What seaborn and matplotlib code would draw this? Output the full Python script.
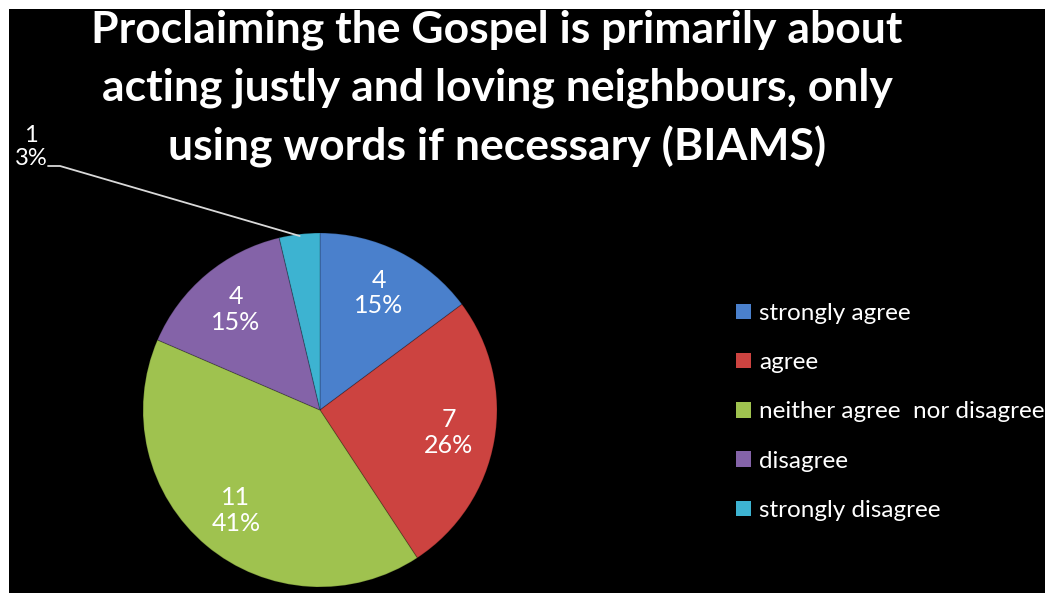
import seaborn as sns
import matplotlib.pyplot as plt
import matplotlib.patches as mpatches
import numpy as np

# data
categories = ["strongly agree", "agree", "neither agree  nor disagree", "disagree", "strongly disagree"]
counts = [4, 7, 11, 4, 1]
pct_labels = ["15%", "26%", "41%", "15%", "3%"]
colors = ["#4a80cc", "#cc4340", "#9fc24f", "#8463a8", "#3db3d1"]

title = ("Proclaiming the Gospel is primarily about\n"
         "acting justly and loving neighbours, only\n"
         "using words if necessary (BIAMS)")

sns.set_theme(style="white")
plt.rcParams['font.family'] = ['Lato', 'DejaVu Sans']

W, H = 1050, 593
fig = plt.figure(figsize=(W / 100, H / 100), dpi=100, facecolor="white")

# black chart area inside a thin white frame
fig.patches.append(mpatches.Rectangle((9 / W, 0), (1045 - 9) / W, (593 - 9) / H,
                                      transform=fig.transFigure, facecolor="black",
                                      edgecolor="none", zorder=-10))

# pie axes: center (320, 410) px, radius 177 px
cx, cy, r = 320, 410, 177
ax = fig.add_axes([(cx - r) / W, (H - cy - r) / H, 2 * r / W, 2 * r / H])
ax.set_facecolor("none")
wedges, _ = ax.pie(counts, colors=colors, startangle=90, counterclock=False,
                   wedgeprops=dict(edgecolor=(0, 0, 0, 0.2), linewidth=0.8))
ax.set_xlim(-1, 1)
ax.set_ylim(-1, 1)
ax.set_aspect("equal")

for i, w in enumerate(wedges):
    lab = f"{counts[i]}\n{pct_labels[i]}"
    ang = np.deg2rad((w.theta1 + w.theta2) / 2)
    if i < len(wedges) - 1:
        d = 0.74
        ax.text(d * np.cos(ang), d * np.sin(ang), lab, ha="center", va="center",
                color="white", fontsize=18, linespacing=1.15)
    else:
        ex, ey = np.cos(ang) * 0.99, np.sin(ang) * 0.99
        tx, ty = (31 - cx) / r, (cy - 147) / r
        ly = (cy - 166) / r
        ax.text(tx, ty, lab, ha="center", va="center", color="white",
                fontsize=17, linespacing=1.1, clip_on=False)
        ax.plot([(48 - cx) / r, (60 - cx) / r, ex], [ly, ly, ey],
                color="#d9d9d9", lw=1.3, clip_on=False)

fig.text(497 / W, 1 - 89 / H, title, ha="center", va="center", color="white",
         fontsize=32, fontweight="bold", linespacing=1.52)

handles = [mpatches.Patch(facecolor=c, edgecolor="none") for c in colors]
leg = fig.legend(handles, categories, loc="center left",
                 bbox_to_anchor=(736 / W, 1 - 412 / H), frameon=False,
                 borderaxespad=0, borderpad=0,
                 fontsize=17.5, labelcolor="white", handlelength=0.6,
                 handleheight=0.6, handletextpad=0.35, labelspacing=1.16)

fig.savefig("out.png", dpi=100, facecolor="white")
